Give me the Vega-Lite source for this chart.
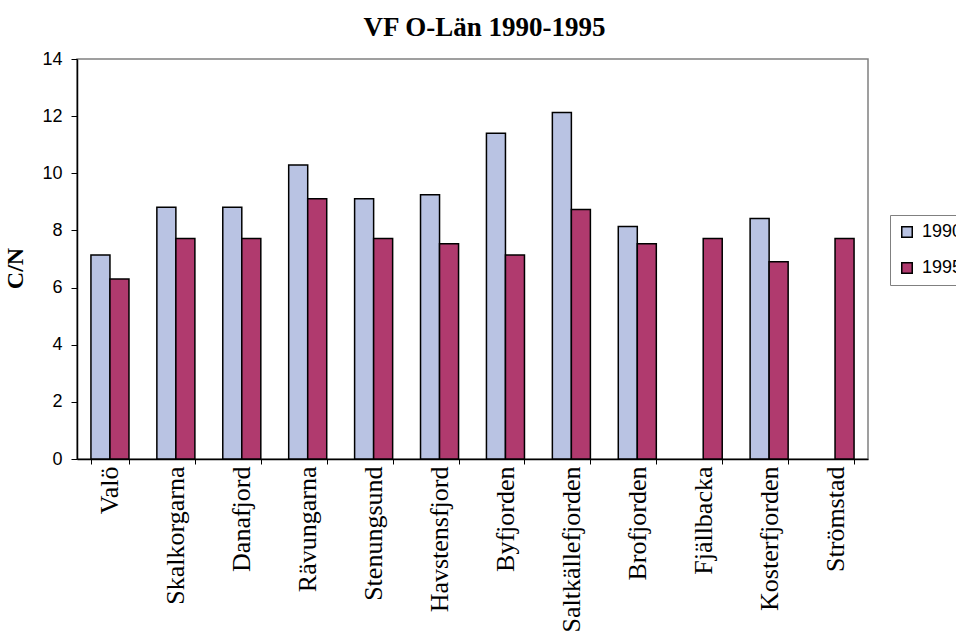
{
  "$schema": "https://vega.github.io/schema/vega-lite/v6.json",
  "autosize": "none",
  "width": 791,
  "height": 400,
  "padding": {"left": 77, "top": 59, "right": 88, "bottom": 174},
  "background": "white",
  "title": {
    "text": "VF O-Län 1990-1995",
    "font": "Liberation Serif",
    "fontSize": 27,
    "fontWeight": "bold",
    "color": "black",
    "anchor": "middle",
    "dx": 12,
    "offset": 8
  },
  "config": {
    "view": {"stroke": "#808080", "strokeWidth": 1.5},
    "axis": {"domainColor": "black", "tickColor": "black", "labelColor": "black", "titleColor": "black", "domainWidth": 1.5, "tickWidth": 1}
  },
  "data": {
    "values": [
      {"site": "Valö", "year": "1990", "cn": 7.14},
      {"site": "Valö", "year": "1995", "cn": 6.3},
      {"site": "Skalkorgarna", "year": "1990", "cn": 8.81},
      {"site": "Skalkorgarna", "year": "1995", "cn": 7.72},
      {"site": "Danafjord", "year": "1990", "cn": 8.81},
      {"site": "Danafjord", "year": "1995", "cn": 7.72},
      {"site": "Rävungarna", "year": "1990", "cn": 10.29},
      {"site": "Rävungarna", "year": "1995", "cn": 9.11},
      {"site": "Stenungsund", "year": "1990", "cn": 9.11},
      {"site": "Stenungsund", "year": "1995", "cn": 7.72},
      {"site": "Havstensfjord", "year": "1990", "cn": 9.25},
      {"site": "Havstensfjord", "year": "1995", "cn": 7.53},
      {"site": "Byfjorden", "year": "1990", "cn": 11.4},
      {"site": "Byfjorden", "year": "1995", "cn": 7.14},
      {"site": "Saltkällefjorden", "year": "1990", "cn": 12.13},
      {"site": "Saltkällefjorden", "year": "1995", "cn": 8.73},
      {"site": "Brofjorden", "year": "1990", "cn": 8.14},
      {"site": "Brofjorden", "year": "1995", "cn": 7.53},
      {"site": "Fjällbacka", "year": "1995", "cn": 7.72},
      {"site": "Kosterfjorden", "year": "1990", "cn": 8.42},
      {"site": "Kosterfjorden", "year": "1995", "cn": 6.9},
      {"site": "Strömstad", "year": "1995", "cn": 7.72}
    ]
  },
  "mark": {"type": "bar", "stroke": "black", "strokeWidth": 1.5},
  "encoding": {
    "x": {
      "field": "site",
      "type": "nominal",
      "sort": null,
      "scale": {"paddingInner": 0.423, "paddingOuter": 0.2115},
      "axis": {
        "title": null,
        "labelAngle": -90,
        "labelAlign": "right",
        "labelBaseline": "middle",
        "labelFont": "Liberation Serif",
        "labelFontSize": 26,
        "labelPadding": 2,
        "tickBand": "extent",
        "tickSize": 5,
        "labelOverlap": false,
        "labelLimit": 250
      }
    },
    "xOffset": {"field": "year", "type": "nominal", "sort": ["1990", "1995"], "scale": {"domain": ["1990", "1995"], "paddingInner": 0, "paddingOuter": 0}},
    "y": {
      "field": "cn",
      "type": "quantitative",
      "scale": {"domain": [0, 14], "nice": false},
      "axis": {
        "title": "C/N",
        "titleFont": "Liberation Serif",
        "titleFontSize": 24,
        "titleFontWeight": "bold",
        "titlePadding": 14,
        "titleY": 209,
        "values": [0, 2, 4, 6, 8, 10, 12, 14],
        "grid": false,
        "labelFont": "Liberation Sans",
        "labelFontSize": 18,
        "labelPadding": 9,
        "tickSize": 6
      }
    },
    "color": {
      "field": "year",
      "type": "nominal",
      "scale": {"domain": ["1990", "1995"], "range": ["#B9C3E3", "#B03A6E"]},
      "legend": {
        "title": null,
        "orient": "none",
        "legendX": 813,
        "legendY": 156,
        "direction": "vertical",
        "strokeColor": "#808080",
        "fillColor": "white",
        "padding": 8,
        "symbolType": "square",
        "symbolSize": 110,
        "symbolStrokeColor": "black",
        "symbolStrokeWidth": 1.5,
        "labelFont": "Liberation Sans",
        "labelFontSize": 18,
        "labelColor": "black",
        "rowPadding": 18,
        "labelOffset": 6
      }
    }
  }
}
